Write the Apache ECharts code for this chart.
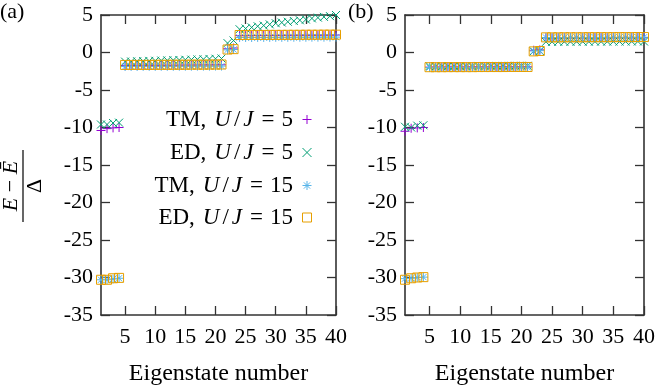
<!DOCTYPE html>
<html>
<head>
<meta charset="utf-8">
<script src="https://cdn.jsdelivr.net/npm/echarts@6/dist/echarts.min.js"></script>
<style>html,body{margin:0;padding:0;background:#fff;}#c{width:658px;height:391px;}</style>
</head>
<body>
<div id="c"></div>
<script>
// Eigenstate index (x values)
var states = [1,2,3,4,5,6,7,8,9,10,11,12,13,14,15,16,17,18,19,20,21,22,23,24,25,26,27,28,29,30,31,32,33,34,35,36,37,38,39,40];
var xTicks = [5,10,15,20,25,30,35,40];
var yTickInterval = 5;

// Panel (a)
var tm5A = [-10.4,-10.15,-10.05,-10.0,
  -1.75,-1.74,-1.74,-1.73,-1.72,-1.72,-1.71,-1.70,-1.70,-1.69,-1.68,-1.68,-1.67,-1.66,-1.66,-1.65,-1.64,
  0.5,0.6,
  2.25,2.25,2.26,2.26,2.27,2.27,2.28,2.28,2.29,2.29,2.30,2.30,2.31,2.31,2.32,2.32,2.33];
var ed5A = [-9.6,-9.6,-9.4,-9.35,
  -1.22,-1.2,-1.17,-1.15,-1.12,-1.1,-1.07,-1.05,-1.02,-1.0,-0.97,-0.95,-0.92,-0.9,-0.86,-0.83,-0.8,
  1.25,1.6,
  3.1,3.2,3.35,3.5,3.6,3.75,3.9,4.0,4.1,4.2,4.3,4.4,4.55,4.65,4.75,4.85,5.0];
var tm15A = [-30.3,-30.3,-30.2,-30.1,
  -1.87,-1.86,-1.86,-1.85,-1.85,-1.85,-1.84,-1.84,-1.84,-1.83,-1.83,-1.83,-1.82,-1.82,-1.82,-1.81,-1.81,
  0.35,0.4,
  2.0,2.0,2.0,2.01,2.01,2.01,2.02,2.02,2.02,2.03,2.03,2.03,2.04,2.04,2.04,2.05,2.05];
var ed15A = [-30.3,-30.3,-30.1,-30.05,
  -1.66,-1.66,-1.65,-1.65,-1.65,-1.64,-1.64,-1.64,-1.63,-1.63,-1.63,-1.62,-1.62,-1.62,-1.61,-1.61,-1.6,
  0.4,0.45,
  2.33,2.33,2.34,2.34,2.34,2.35,2.35,2.35,2.36,2.36,2.36,2.37,2.37,2.37,2.38,2.38,2.38];

// Panel (b)
var tm5B = [-10.5,-10.1,-10.05,-10.0,
  -1.95,-1.95,-1.95,-1.94,-1.94,-1.94,-1.94,-1.93,-1.93,-1.93,-1.93,-1.92,-1.92,-1.92,-1.92,-1.91,-1.91,
  0.3,0.35,
  1.95,1.95,1.95,1.96,1.96,1.96,1.96,1.97,1.97,1.97,1.97,1.98,1.98,1.98,1.98,1.99,1.99];
var ed5B = [-9.9,-10.0,-9.75,-9.7,
  -1.82,-1.82,-1.81,-1.81,-1.81,-1.8,-1.8,-1.8,-1.79,-1.79,-1.79,-1.78,-1.78,-1.78,-1.77,-1.77,-1.77,
  0.15,0.2,
  1.42,1.42,1.43,1.43,1.43,1.44,1.44,1.44,1.45,1.45,1.45,1.46,1.46,1.46,1.47,1.47,1.47];
var tm15B = [-30.15,-30.1,-30.0,-29.95,
  -2.0,-2.0,-2.0,-2.0,-1.99,-1.99,-1.99,-1.99,-1.99,-1.98,-1.98,-1.98,-1.98,-1.98,-1.97,-1.97,-1.97,
  0.2,0.25,
  2.0,2.0,2.0,2.0,2.01,2.01,2.01,2.01,2.01,2.02,2.02,2.02,2.02,2.02,2.03,2.03,2.03];
var ed15B = [-30.3,-30.1,-30.0,-29.95,
  -1.96,-1.96,-1.96,-1.95,-1.95,-1.95,-1.95,-1.95,-1.94,-1.94,-1.94,-1.94,-1.94,-1.93,-1.93,-1.93,-1.93,
  0.15,0.2,
  2.02,2.02,2.02,2.03,2.03,2.03,2.03,2.04,2.04,2.04,2.04,2.05,2.05,2.05,2.05,2.06,2.06];

var seriesNames = ['TM5','ED5','TM15','ED15'];
var legendLabels = {
  TM5: '{c|TM,}{i|U}{s|/}{i|J}{e|=}{a|5}',
  ED5: '{c|ED,}{i|U}{s|/}{i|J}{e|=}{a|5}',
  TM15: '{c|TM,}{i|U}{s|/}{i|J}{e|=}{a|15}',
  ED15: '{c|ED,}{i|U}{s|/}{i|J}{e|=}{a|15}'
};

var FONT = 'Liberation Serif';
var FS = 22;
var LFS = 23;
var AX = '#333';
var colors = {TM5:'#9400d3', ED5:'#009e73', TM15:'#56b4e9', ED15:'#e69f00'};
var symbols = {
  TM5: 'path://M0,5L10,5M5,0L5,10',
  ED5: 'path://M0,0L10,10M0,10L10,0',
  TM15: 'path://M0,5L10,5M5,0L5,10M1.5,1.5L8.5,8.5M1.5,8.5L8.5,1.5',
  ED15: 'path://M0,0L10,0L10,10L0,10Z'
};
var sizes = {TM5:9, ED5:8, TM15:9, ED15:9};

function pts(arr){ return states.map(function(s,i){ return [s, arr[i]]; }); }

function mkSeries(name, arr, gi){
  return {
    type:'scatter', name:name, xAxisIndex: gi*2, yAxisIndex: gi*2,
    data: pts(arr), symbol: symbols[name], symbolSize: sizes[name],
    itemStyle:{color:'rgba(0,0,0,0)', borderColor: colors[name], borderWidth:1, opacity:1},
    emphasis:{disabled:true}, animation:false
  };
}

function xAxes(gi){
  var base = {
    gridIndex: gi, type:'value', min:1, max:40,
    splitLine:{show:false},
    axisLine:{show:true, onZero:false, lineStyle:{color:AX, width:1.6}},
    axisTick:{show:true, inside:true, length:9, customValues: xTicks, lineStyle:{color:AX, width:1.3}}
  };
  var bottom = Object.assign({}, base, {
    position:'bottom',
    axisLabel:{show:true, customValues: xTicks, color:'#000', fontFamily:FONT, fontSize:FS, margin:11},
    name:'Eigenstate number', nameLocation:'middle', nameGap:47,
    nameTextStyle:{color:'#000', fontFamily:FONT, fontSize:24}
  });
  var top = Object.assign({}, base, {position:'top', axisLabel:{show:false}});
  return [bottom, top];
}
function yAxes(gi){
  var base = {
    gridIndex: gi, type:'value', min:-35, max:5, interval: yTickInterval,
    splitLine:{show:false},
    axisLine:{show:true, onZero:false, lineStyle:{color:AX, width:1.6}},
    axisTick:{show:true, inside:true, length:9, lineStyle:{color:AX, width:1.3}}
  };
  var left = Object.assign({}, base, {
    position:'left',
    axisLabel:{show:true, color:'#000', fontFamily:FONT, fontSize:FS, margin:8}
  });
  var right = Object.assign({}, base, {position:'right', axisLabel:{show:false}});
  return [left, right];
}

var legendTops = [103, 136, 169, 201];
var legends = seriesNames.map(function(n, i){
  return {
    data:[n], orient:'vertical', right:341, top: legendTops[i], align:'right',
    itemWidth:18, itemHeight:9, itemGap:0, selectedMode:false, symbolKeepAspect:true,
    itemStyle:{borderWidth:1},
    formatter: function(name){ return legendLabels[name]; },
    textStyle:{color:'#000', fontFamily:FONT, fontSize:LFS,
      rich:{
        a:{fontFamily:FONT, fontSize:LFS, color:'#000'},
        c:{fontFamily:FONT, fontSize:LFS, color:'#000', padding:[0,7,0,0]},
        i:{fontFamily:FONT, fontSize:LFS, fontStyle:'italic', color:'#000', padding:[0,1,0,1]},
        s:{fontFamily:FONT, fontSize:LFS, color:'#000', padding:[0,2,0,2]},
        e:{fontFamily:FONT, fontSize:LFS, color:'#000', padding:[0,7,0,7]}
      } }
  };
});

var chart = echarts.init(document.getElementById('c'), null, {renderer:'canvas'});
chart.setOption({
  animation:false,
  backgroundColor:'#fff',
  grid:[
    {left:101, top:15, right:322, bottom:75.5, containLabel:false},
    {left:405, top:15, right:10.5, bottom:75.5, containLabel:false}
  ],
  xAxis: xAxes(0).concat(xAxes(1)),
  yAxis: yAxes(0).concat(yAxes(1)),
  legend: legends,
  series: [
    mkSeries('TM5', tm5A, 0), mkSeries('ED5', ed5A, 0), mkSeries('TM15', tm15A, 0), mkSeries('ED15', ed15A, 0),
    mkSeries('TM5', tm5B, 1), mkSeries('ED5', ed5B, 1), mkSeries('TM15', tm15B, 1), mkSeries('ED15', ed15B, 1)
  ],
  graphic:[
    {type:'text', left:0, top:1, style:{text:'(a)', fill:'#000', font: FS+'px "'+FONT+'"'}},
    {type:'text', left:348, top:1, style:{text:'(b)', fill:'#000', font: FS+'px "'+FONT+'"'}},
    {type:'group', x:23, y:186, rotation: Math.PI/2, children:[
      {type:'text', x:0, y:-12, style:{text:'{i|E} − {i|Ē}', fill:'#000', align:'center', verticalAlign:'middle',
        font: FS+'px "'+FONT+'"', rich:{i:{fontStyle:'italic', fontFamily:FONT, fontSize:FS}}}},
      {type:'line', shape:{x1:-36, y1:0, x2:36, y2:0}, style:{stroke:'#000', lineWidth:1.2}},
      {type:'text', x:0, y:12, style:{text:'Δ', fill:'#000', align:'center', verticalAlign:'middle',
        font: FS+'px "'+FONT+'"'}}
    ]}
  ]
});
</script>
</body>
</html>
